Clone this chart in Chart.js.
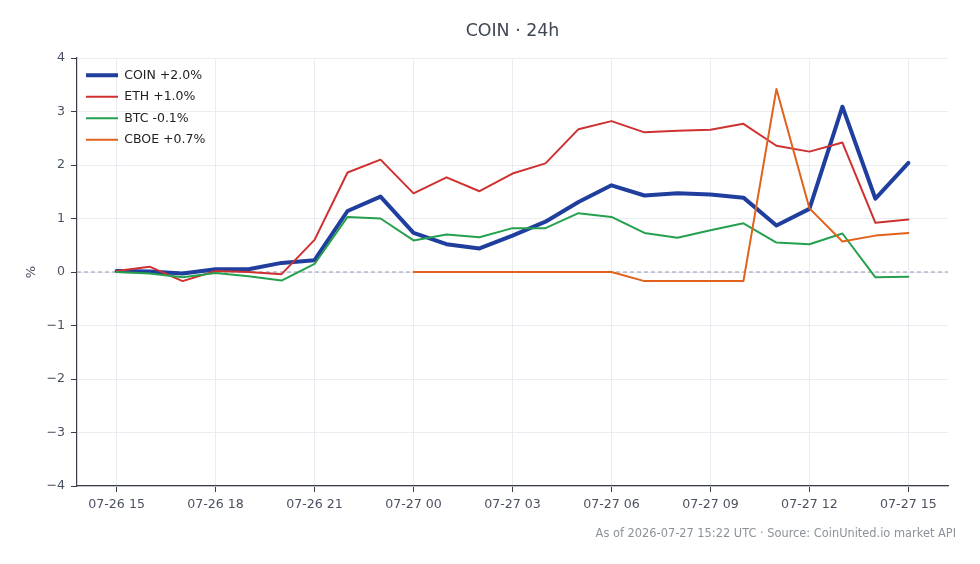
<!DOCTYPE html>
<html>
<head>
<meta charset="utf-8">
<script src="https://cdn.jsdelivr.net/npm/chart.js@4.4.1/dist/chart.umd.min.js"></script>
<style>
  html,body{margin:0;padding:0;background:#fff;}
  #wrap{width:980px;height:564px;position:relative;}
</style>
</head>
<body>
<div id="wrap"><canvas id="ch_coin"></canvas></div>
<script>
// hourly points, 07-26 15 .. 07-27 15 (index 0..24)
const hours = [0,1,2,3,4,5,6,7,8,9,10,11,12,13,14,15,16,17,18,19,20,21,22,23,24];
const tickHours = [0,3,6,9,12,15,18,21,24];
const tickLabels = ['07-26 15','07-26 18','07-26 21','07-27 00','07-27 03','07-27 06','07-27 09','07-27 12','07-27 15'];
const yTicks = [-4,-3,-2,-1,0,1,2,3,4];

const coin = [0.02,0.01,-0.03,0.05,0.05,0.17,0.22,1.14,1.41,0.73,0.52,0.44,0.68,0.94,1.31,1.62,1.43,1.47,1.45,1.39,0.87,1.18,3.09,1.37,2.04];
const eth  = [0.02,0.10,-0.17,0.02,0.00,-0.04,0.60,1.86,2.10,1.47,1.77,1.51,1.84,2.03,2.67,2.82,2.61,2.64,2.66,2.77,2.36,2.25,2.42,0.92,0.98];
const btc  = [0.00,-0.03,-0.10,-0.02,-0.08,-0.16,0.15,1.03,1.00,0.59,0.70,0.65,0.82,0.82,1.10,1.03,0.73,0.64,0.78,0.91,0.55,0.52,0.72,-0.10,-0.09];
const cboe = [null,null,null,null,null,null,null,null,null,0.00,0.00,0.00,0.00,0.00,0.00,0.00,-0.17,-0.17,-0.17,-0.17,3.42,1.19,0.57,0.68,0.73];

const TITLE = 'COIN \u00b7 24h';
const FOOTNOTE = 'As of 2026-07-27 15:22 UTC \u00b7 Source: CoinUnited.io market API';
const FONT = '"DejaVu Sans", Verdana, sans-serif';

const pts = arr => hours.map((h,i)=>({x:h, y:arr[i]}));
const minus = v => (v<0 ? '\u2212'+Math.abs(v) : ''+v);

// title centred on the plot area + source note bottom-right;
// also pin the chartArea legend to the top of the plot (v4 resets its top to 0)
const textPlugin = {
  id:'texts',
  afterLayout(chart){
    const lg = chart.legend; if(!lg) return;
    const h = lg.bottom - lg.top;
    lg.top = chart.chartArea.top + 2; lg.bottom = lg.top + h;
  },
  afterDraw(chart){
    const {ctx, chartArea:a} = chart;
    ctx.save();
    ctx.fillStyle='#3f4654'; ctx.font='17.4px '+FONT;
    ctx.textAlign='center'; ctx.textBaseline='middle';
    ctx.fillText(TITLE, (a.left+a.right)/2, 31);
    ctx.fillStyle='#8c929b'; ctx.font='11.4px '+FONT;
    ctx.textAlign='right'; ctx.textBaseline='middle';
    ctx.fillText(FOOTNOTE, 956, 534);
    ctx.restore();
  }
};

const line = (label, arr, color, w, order) => ({
  label, data:pts(arr), borderColor:color, backgroundColor:color,
  borderWidth:w, pointRadius:0, tension:0, spanGaps:false, order,
  borderJoinStyle:'round', borderCapStyle:'round'
});

new Chart(document.getElementById('ch_coin').getContext('2d'), {
  type:'line',
  data:{datasets:[
    line('COIN +2.0%', coin, '#1f3e9e', 4, 4),
    line('ETH +1.0%', eth, '#cf3030', 2, 3),
    line('BTC -0.1%', btc, '#24a04e', 2, 2),
    line('CBOE +0.7%', cboe, '#e0621c', 2, 1),
    {label:'_zero', data:[{x:-1.2,y:0},{x:25.2,y:0}], borderColor:'#8e9ab0', borderWidth:1,
     borderDash:[4,3], pointRadius:0, order:9}
  ]},
  options:{
    responsive:true, maintainAspectRatio:false, animation:false,
    layout:{padding:{left:24, right:32, top:58, bottom:0}},
    plugins:{
      title:{display:false},
      tooltip:{enabled:false},
      legend:{
        position:'chartArea', align:'start',
        labels:{
          filter:it=>!it.text.startsWith('_'),
          sort:(a,b)=>a.datasetIndex-b.datasetIndex,
          usePointStyle:true, pointStyle:'line', pointStyleWidth:32,
          boxHeight:12, padding:9, color:'#222',
          font:{family:FONT, size:12.5}
        }
      }
    },
    scales:{
      x:{
        type:'linear', min:-1.2, max:25.2,
        afterBuildTicks:s=>{ s.ticks = tickHours.map(v=>({value:v})); },
        afterFit:s=>{ s.height = 78; },
        ticks:{callback:(v)=>tickLabels[tickHours.indexOf(v)] ?? '',
               color:'#4a5160', font:{family:FONT, size:12.6}, padding:5, maxRotation:0, autoSkip:false},
        grid:{color:'#e9ecf0', tickColor:'#3a3f47', tickLength:6},
        border:{color:'#3a3f47', width:1.2}
      },
      y:{
        min:-4, max:4,
        afterBuildTicks:s=>{ s.ticks = yTicks.map(v=>({value:v})); },
        afterFit:s=>{ s.width = 53; },
        ticks:{callback:v=>minus(v), color:'#4a5160', font:{family:FONT, size:12.6}, padding:6},
        grid:{color:'#e9ecf0', tickColor:'#3a3f47', tickLength:6},
        border:{color:'#3a3f47', width:1.2},
        title:{display:true, text:'%', color:'#4a5160', font:{family:FONT, size:13}, padding:{top:0,bottom:4}}
      }
    }
  },
  plugins:[textPlugin]
});
</script>
</body>
</html>
